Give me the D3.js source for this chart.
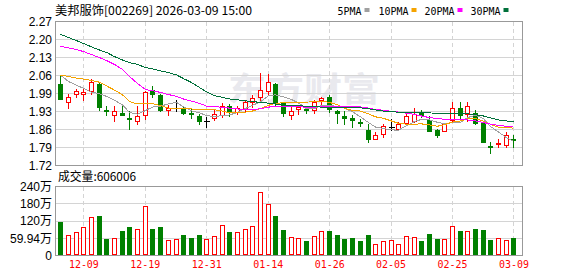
<!DOCTYPE html>
<html>
<head>
<meta charset="utf-8">
<script src="https://cdn.jsdelivr.net/npm/d3@7"></script>
<style>
  body { margin: 0; background: #fff; }
  svg { display: block; }
</style>
</head>
<body>
<div id="wrapper"></div>
<script>
// trading days shown (60 sessions)
const dates = [
  "12-04","12-05","12-08","12-09","12-10","12-11","12-12","12-15","12-16","12-17",
  "12-18","12-19","12-22","12-23","12-24","12-25","12-26","12-29","12-30","12-31",
  "01-05","01-06","01-07","01-08","01-09","01-12","01-13","01-14","01-15","01-16",
  "01-19","01-20","01-21","01-22","01-23","01-26","01-27","01-28","01-29","01-30",
  "02-02","02-03","02-04","02-05","02-06","02-09","02-10","02-11","02-12","02-13",
  "02-24","02-25","02-26","02-27","03-02","03-03","03-04","03-05","03-06","03-09"
];

const opens = [
  2.033, 1.963, 1.994, 1.993, 2.005, 2.033, 1.931, 1.914, 1.919, 1.901,
  1.891, 1.912, 2.009, 1.991, 1.933, 1.938, 1.940, 1.919, 1.910, 1.889,
  1.902, 1.912, 1.948, 1.925, 1.941, 1.961, 1.980, 2.005, 2.033, 1.957,
  1.912, 1.934, 1.937, 1.933, 1.972, 1.980, 1.930, 1.910, 1.902, 1.887,
  1.857, 1.822, 1.841, 1.866, 1.861, 1.883, 1.889, 1.921, 1.893, 1.857,
  1.853, 1.892, 1.940, 1.915, 1.919, 1.883, 1.796, 1.802, 1.797, 1.822
];
const highs = [
  2.065, 1.992, 2.013, 2.011, 2.052, 2.035, 1.948, 1.948, 1.946, 1.930,
  1.948, 2.003, 2.024, 1.993, 1.950, 1.971, 1.942, 1.938, 1.915, 1.906,
  1.931, 1.957, 1.953, 1.948, 1.966, 1.989, 2.073, 2.071, 2.035, 1.961,
  1.948, 1.950, 1.941, 1.972, 1.981, 1.989, 1.931, 1.930, 1.914, 1.898,
  1.879, 1.847, 1.880, 1.899, 1.887, 1.919, 1.940, 1.931, 1.910, 1.860,
  1.884, 1.961, 1.961, 1.961, 1.931, 1.887, 1.810, 1.820, 1.849, 1.838
];
const lows = [
  1.973, 1.941, 1.980, 1.972, 1.992, 1.931, 1.912, 1.889, 1.912, 1.859,
  1.880, 1.899, 1.982, 1.929, 1.912, 1.930, 1.918, 1.902, 1.880, 1.868,
  1.893, 1.906, 1.910, 1.915, 1.930, 1.943, 1.961, 1.989, 1.950, 1.910,
  1.899, 1.918, 1.920, 1.920, 1.950, 1.925, 1.882, 1.877, 1.868, 1.872,
  1.809, 1.821, 1.830, 1.855, 1.858, 1.882, 1.887, 1.906, 1.852, 1.828,
  1.852, 1.887, 1.897, 1.891, 1.880, 1.808, 1.769, 1.791, 1.791, 1.791
];
const closes = [
  1.973, 1.980, 2.004, 2.002, 2.040, 1.944, 1.929, 1.930, 1.912, 1.899,
  1.910, 2.001, 1.992, 1.931, 1.941, 1.938, 1.920, 1.917, 1.889, 1.889,
  1.916, 1.946, 1.925, 1.940, 1.961, 1.979, 2.010, 2.040, 1.961, 1.919,
  1.930, 1.943, 1.933, 1.961, 1.979, 1.934, 1.920, 1.900, 1.893, 1.884,
  1.822, 1.837, 1.869, 1.866, 1.880, 1.910, 1.915, 1.911, 1.853, 1.838,
  1.877, 1.940, 1.912, 1.948, 1.883, 1.810, 1.793, 1.805, 1.838, 1.820
];
// volume in 万 shares
const volumes = [
  114.8, 72.0, 82.3, 99.7, 134.5, 139.1, 58.0, 61.4, 83.5, 99.7,
  92.7, 172.8, 93.9, 97.4, 54.5, 58.0, 69.6, 62.6, 69.6, 58.0,
  68.4, 106.7, 82.3, 82.3, 91.6, 103.2, 221.5, 177.4, 139.1, 90.4,
  64.9, 61.4, 48.7, 68.4, 85.8, 83.5, 73.0, 55.7, 62.6, 48.7,
  69.6, 38.3, 48.7, 52.2, 41.7, 66.1, 64.9, 48.7, 76.5, 55.7,
  58.0, 103.2, 83.5, 85.8, 93.9, 90.4, 52.2, 61.4, 54.5, 60.6
];

const ma5 = [
  2.065, 2.041, 2.026, 2.015, 2.000, 1.994, 1.984, 1.969, 1.951, 1.923,
  1.916, 1.930, 1.943, 1.947, 1.955, 1.961, 1.944, 1.929, 1.921, 1.911,
  1.906, 1.911, 1.913, 1.923, 1.938, 1.950, 1.963, 1.986, 1.990, 1.982,
  1.972, 1.959, 1.937, 1.937, 1.949, 1.950, 1.945, 1.939, 1.925, 1.906,
  1.884, 1.867, 1.861, 1.856, 1.855, 1.872, 1.888, 1.896, 1.894, 1.885,
  1.879, 1.884, 1.884, 1.903, 1.912, 1.899, 1.869, 1.848, 1.826, 1.813
];
const ma10 = [
  2.065, 2.060, 2.054, 2.050, 2.045, 2.038, 2.024, 2.008, 1.990, 1.964,
  1.955, 1.957, 1.956, 1.949, 1.939, 1.938, 1.937, 1.936, 1.934, 1.933,
  1.933, 1.928, 1.921, 1.922, 1.924, 1.928, 1.937, 1.950, 1.957, 1.960,
  1.961, 1.961, 1.962, 1.964, 1.966, 1.961, 1.952, 1.938, 1.931, 1.928,
  1.917, 1.906, 1.900, 1.890, 1.881, 1.878, 1.878, 1.879, 1.875, 1.870,
  1.876, 1.886, 1.890, 1.898, 1.899, 1.889, 1.877, 1.866, 1.864, 1.863
];
const ma20 = [
  2.175, 2.169, 2.163, 2.155, 2.144, 2.132, 2.121, 2.106, 2.087, 2.060,
  2.033, 2.010, 2.006, 1.999, 1.991, 1.984, 1.974, 1.966, 1.957, 1.947,
  1.944, 1.943, 1.939, 1.936, 1.932, 1.933, 1.937, 1.943, 1.946, 1.947,
  1.947, 1.945, 1.942, 1.943, 1.945, 1.945, 1.945, 1.944, 1.944, 1.944,
  1.939, 1.934, 1.931, 1.927, 1.924, 1.920, 1.915, 1.909, 1.903, 1.899,
  1.897, 1.896, 1.895, 1.894, 1.890, 1.884, 1.878, 1.873, 1.870, 1.867
];
const ma30 = [
  2.221, 2.209, 2.197, 2.186, 2.173, 2.161, 2.152, 2.136, 2.123, 2.113,
  2.106, 2.094, 2.089, 2.081, 2.075, 2.066, 2.052, 2.037, 2.018, 2.001,
  1.987, 1.980, 1.974, 1.971, 1.967, 1.964, 1.961, 1.958, 1.955, 1.951,
  1.950, 1.949, 1.946, 1.945, 1.943, 1.942, 1.942, 1.941, 1.941, 1.940,
  1.937, 1.932, 1.928, 1.925, 1.924, 1.922, 1.922, 1.922, 1.921, 1.919,
  1.918, 1.918, 1.917, 1.917, 1.915, 1.909, 1.902, 1.894, 1.890, 1.887
];

const priceTicks = [2.27, 2.20125, 2.1325, 2.06375, 1.995, 1.92625, 1.8575, 1.78875, 1.72];
const priceTickLabels = ["2.27", "2.20", "2.13", "2.06", "1.99", "1.93", "1.86", "1.79", "1.72"];
const volTicks = [240, 180, 120, 59.94, 0];
const volTickLabels = ["240万", "180万", "120万", "59.94万", "0"];
const dateTicks = ["12-09", "12-19", "12-31", "01-14", "01-26", "02-05", "02-25", "03-09"];

const titleText = "美邦服饰[002269] 2026-03-09 15:00";
const volumeText = "成交量:606006";
const maNames = ["5PMA", "10PMA", "20PMA", "30PMA"];
const maColors = ["#a0a0a0", "#f5a300", "#ff00ff", "#00703a"];

function drawChart() {

  // 1. Access data
  const dataset = dates.map((d, i) => ({
    date: d, open: opens[i], high: highs[i], low: lows[i], close: closes[i], volume: volumes[i]
  }));
  const maSeries = [ma5, ma10, ma20, ma30];

  // 2. Chart dimensions
  const dimensions = {
    width: 578,
    height: 276,
    left: 55.5,
    right: 522.5,
    priceTop: 21.5,
    priceBottom: 165.5,
    volTop: 186.5,
    volBottom: 255.5,
  };

  const red = "#ff0000";
  const green = "#008000";
  const gridColor = "#d4d4d4";
  const borderColor = "#999999";
  const sans = "'Liberation Sans', Arial, sans-serif";
  const cjk = "'Noto Sans CJK SC', 'Noto Sans', sans-serif";

  // 3. Draw canvas
  const wrapper = d3.select("#wrapper")
    .append("svg")
      .attr("width", dimensions.width)
      .attr("height", dimensions.height);

  // 4. Scales
  const xScale = d3.scaleBand()
    .domain(dates)
    .range([56.5, 517.3])
    .padding(0);
  const xCenter = d => Math.round(xScale(d) + xScale.bandwidth() / 2) + 0.5;

  const yScale = d3.scaleLinear()
    .domain([1.72, 2.27])
    .range([dimensions.priceBottom, dimensions.priceTop]);

  const volScale = d3.scaleLinear()
    .domain([0, 240])
    .range([dimensions.volBottom, dimensions.volTop]);

  const snap = v => Math.round(v - 0.5) + 0.5;

  // watermark
  wrapper.append("text")
    .attr("x", 228)
    .attr("y", 101)
    .attr("textLength", 152)
    .attr("lengthAdjust", "spacingAndGlyphs")
    .style("font-family", cjk)
    .style("font-size", "33px")
    .style("font-weight", "bold")
    .style("fill", "#e9e9ee")
    .text("东方财富");

  // 5. Grid
  const grid = wrapper.append("g").attr("shape-rendering", "crispEdges");

  grid.selectAll(".price-grid")
    .data(priceTicks)
    .join("line")
      .attr("x1", dimensions.left).attr("x2", dimensions.right)
      .attr("y1", d => snap(yScale(d))).attr("y2", d => snap(yScale(d)))
      .attr("stroke", gridColor);

  grid.selectAll(".vol-grid")
    .data(volTicks)
    .join("line")
      .attr("x1", dimensions.left).attr("x2", dimensions.right)
      .attr("y1", d => snap(volScale(d))).attr("y2", d => snap(volScale(d)))
      .attr("stroke", gridColor);

  [[dimensions.priceTop, dimensions.priceBottom], [dimensions.volTop, dimensions.volBottom]].forEach(([t, b]) => {
    grid.append("g").selectAll("line")
      .data(dateTicks)
      .join("line")
        .attr("x1", d => xCenter(d)).attr("x2", d => xCenter(d))
        .attr("y1", t).attr("y2", b)
        .attr("stroke", gridColor)
        .attr("stroke-dasharray", "4,3");
  });

  // 6. Candles
  const candles = wrapper.append("g").attr("shape-rendering", "crispEdges");

  dataset.forEach(d => {
    const cx = xCenter(d.date);
    const color = d.close > d.open ? red : d.close < d.open ? green : "#000";
    candles.append("line")
      .attr("x1", cx).attr("x2", cx)
      .attr("y1", Math.round(yScale(d.high))).attr("y2", Math.round(yScale(d.low)) + 1)
      .attr("stroke", color);

    const yOpen = Math.round(yScale(d.open));
    const yClose = Math.round(yScale(d.close));
    if (d.close > d.open) {
      candles.append("rect")
        .attr("x", cx - 2).attr("y", yClose + 0.5)
        .attr("width", 4).attr("height", Math.max(yOpen - yClose, 1))
        .attr("fill", "#fff")
        .attr("stroke", red);
    } else if (d.close < d.open) {
      candles.append("rect")
        .attr("x", cx - 2.5).attr("y", yOpen)
        .attr("width", 5).attr("height", Math.max(yClose - yOpen, 1) + 1)
        .attr("fill", green);
    } else {
      candles.append("line")
        .attr("x1", cx - 3).attr("x2", cx + 3)
        .attr("y1", yClose + 0.5).attr("y2", yClose + 0.5)
        .attr("stroke", "#000");
    }
  });

  // 7. Moving averages
  const lineGenerator = d3.line()
    .x((d, i) => xCenter(dates[i]))
    .y(d => yScale(d));

  wrapper.append("g")
    .selectAll("path")
    .data(maSeries)
    .join("path")
      .attr("d", d => lineGenerator(d))
      .attr("fill", "none")
      .attr("stroke", (d, i) => maColors[i])
      .attr("stroke-width", 1)
      .attr("shape-rendering", "crispEdges");

  // 8. Volume bars
  const bars = wrapper.append("g").attr("shape-rendering", "crispEdges");
  dataset.forEach(d => {
    const cx = xCenter(d.date);
    const top = Math.round(volScale(d.volume));
    if (d.close >= d.open) {
      bars.append("rect")
        .attr("x", cx - 2).attr("y", top + 0.5)
        .attr("width", 4).attr("height", 255 - top - 1)
        .attr("fill", "#fff")
        .attr("stroke", red);
    } else {
      bars.append("rect")
        .attr("x", cx - 2.5).attr("y", top)
        .attr("width", 5).attr("height", 255 - top)
        .attr("fill", green);
    }
  });

  // 9. Frames
  wrapper.append("rect")
    .attr("x", dimensions.left).attr("y", dimensions.priceTop)
    .attr("width", dimensions.right - dimensions.left)
    .attr("height", dimensions.priceBottom - dimensions.priceTop)
    .attr("fill", "none").attr("stroke", borderColor)
    .attr("shape-rendering", "crispEdges");

  wrapper.append("rect")
    .attr("x", dimensions.left).attr("y", dimensions.volTop)
    .attr("width", dimensions.right - dimensions.left)
    .attr("height", dimensions.volBottom - dimensions.volTop)
    .attr("fill", "none").attr("stroke", borderColor)
    .attr("shape-rendering", "crispEdges");

  // 10. Axes
  const yAxisGenerator = d3.axisLeft(yScale)
    .tickValues(priceTicks)
    .tickFormat((d, i) => priceTickLabels[i])
    .tickSize(0)
    .tickPadding(3);

  const yAxis = wrapper.append("g")
    .attr("transform", `translate(${dimensions.left - 0.5}, 0)`)
    .call(yAxisGenerator);

  const volAxisGenerator = d3.axisLeft(volScale)
    .tickValues(volTicks)
    .tickFormat((d, i) => volTickLabels[i])
    .tickSize(0)
    .tickPadding(3);

  const volAxis = wrapper.append("g")
    .attr("transform", `translate(${dimensions.left - 0.5}, 0)`)
    .call(volAxisGenerator);

  [yAxis, volAxis].forEach(ax => {
    ax.select(".domain").remove();
    ax.selectAll("text")
      .style("font-family", sans)
      .style("font-size", "12px")
      .style("fill", "#000");
  });
  volAxis.selectAll("text").style("font-family", `'Liberation Sans', 'Noto Sans CJK SC', sans-serif`);

  const xAxisGenerator = d3.axisBottom(xScale)
    .tickValues(dateTicks)
    .tickSize(0)
    .tickPadding(5);

  const xAxis = wrapper.append("g")
    .attr("transform", `translate(0.5, ${dimensions.volBottom})`)
    .call(xAxisGenerator);

  xAxis.select(".domain").remove();
  xAxis.selectAll("text")
    .attr("textLength", 30)
    .attr("lengthAdjust", "spacingAndGlyphs")
    .style("font-family", "'DejaVu Sans Mono', monospace")
    .style("font-size", "11px")
    .style("fill", red);

  // 11. Header texts and legend
  wrapper.append("text")
    .attr("x", 55)
    .attr("y", 15)
    .attr("textLength", 197)
    .attr("lengthAdjust", "spacingAndGlyphs")
    .style("font-family", cjk)
    .style("font-size", "12px")
    .style("fill", "#000")
    .text(titleText);

  wrapper.append("text")
    .attr("x", 58)
    .attr("y", 181)
    .attr("textLength", 78)
    .attr("lengthAdjust", "spacingAndGlyphs")
    .style("font-family", cjk)
    .style("font-size", "12px")
    .style("fill", "#000")
    .text(volumeText);

  const legendX = [337.5, 378.5, 424.5, 470.5];
  const legend = wrapper.append("g")
    .selectAll("g")
    .data(maNames)
    .join("g")
      .attr("transform", (d, i) => `translate(${legendX[i]}, 0)`);

  legend.append("text")
    .attr("y", 15)
    .attr("textLength", d => d.length * 6)
    .attr("lengthAdjust", "spacingAndGlyphs")
    .style("font-family", "'DejaVu Sans Mono', monospace")
    .style("font-size", "11px")
    .style("fill", "#000")
    .text(d => d);

  legend.append("rect")
    .attr("x", d => d.length * 6 + 3)
    .attr("y", 8)
    .attr("width", 5)
    .attr("height", 4)
    .attr("fill", (d, i) => maColors[i]);
}
drawChart();
</script>
</body>
</html>
